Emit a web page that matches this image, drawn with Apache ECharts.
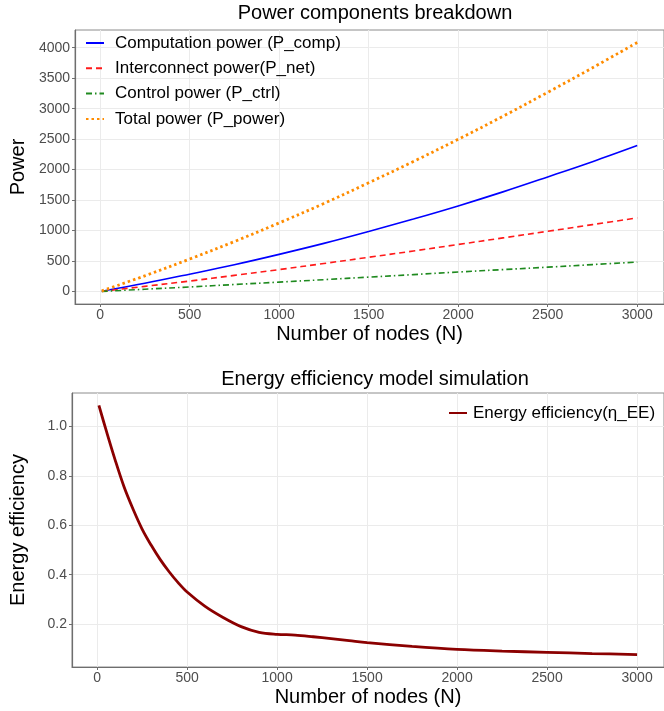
<!DOCTYPE html>
<html>
<head>
<meta charset="utf-8">
<title>Power and energy efficiency</title>
<script src="https://cdn.jsdelivr.net/npm/echarts@6/dist/echarts.min.js"></script>
<style>
  html, body { margin: 0; padding: 0; background: #fff; }
  #chart { width: 664px; height: 711px; }
</style>
</head>
<body>
<div id="chart"></div>
<script>
// x positions (number of nodes) for the power panel
const powerNodes = [10, 250, 500, 750, 1000, 1250, 1500, 1750, 2000, 2250, 2500, 2750, 3000];
const pComp  = [5, 135, 285, 440, 610, 790, 985, 1190, 1405, 1635, 1880, 2130, 2395];
const pNet   = [3, 85, 172, 265, 360, 460, 562, 665, 772, 880, 988, 1098, 1208];
const pCtrl  = [2, 38, 75, 115, 155, 195, 237, 278, 320, 360, 400, 442, 483];
const pTotal = [10, 258, 532, 820, 1125, 1445, 1784, 2133, 2497, 2875, 3268, 3670, 4086];

// energy efficiency curve
const effNodes = [10, 50, 100, 150, 200, 250, 300, 350, 400, 450, 500, 600, 700, 800, 900, 1000,
  1100, 1200, 1300, 1400, 1500, 1750, 2000, 2250, 2500, 2750, 3000];
const effValues = [1.085, 0.985, 0.865, 0.755, 0.665, 0.585, 0.52, 0.462, 0.412, 0.368, 0.330, 0.272, 0.227, 0.19, 0.167, 0.159,
  0.156, 0.149, 0.141, 0.133, 0.125, 0.110, 0.098, 0.091, 0.086, 0.081, 0.077];

// tick labels
const xTicks = [0, 500, 1000, 1500, 2000, 2500, 3000];
const powerTicks = [0, 500, 1000, 1500, 2000, 2500, 3000, 3500, 4000];
const effTicks = [0.2, 0.4, 0.6, 0.8, 1.0];

const FONT = 'Liberation Sans, Arial, sans-serif';
const zip = (xs, ys) => xs.map((x, i) => [x, ys[i]]);

// ggplot style 5% expansion around the data range
const expand = (lo, hi) => {
  const pad = (hi - lo) * 0.05;
  return [lo - pad, hi + pad];
};
const xRange = expand(10, 3000);
const powerRange = expand(0, Math.max(...pTotal));
const effRange = expand(Math.min(...effValues), Math.max(...effValues));

const xAxisBase = (gridIndex) => ({
  type: 'value',
  gridIndex: gridIndex,
  min: xRange[0],
  max: xRange[1],
  name: 'Number of nodes (N)',
  nameLocation: 'middle',
  nameGap: 20,
  nameTextStyle: { fontFamily: FONT, fontSize: 20, color: '#000' },
  axisLine: { show: true, onZero: false, lineStyle: { color: '#6e6e6e', width: 1.2 } },
  axisTick: { show: true, length: 3, customValues: xTicks, lineStyle: { color: '#6e6e6e' } },
  axisLabel: { customValues: xTicks, margin: 4, fontFamily: FONT, fontSize: 14, color: '#4d4d4d', formatter: v => String(v) },
  splitLine: { show: true, lineStyle: { color: '#ebebeb', width: 1 } }
});

const yAxisBase = (gridIndex, range, ticks, name, fmt) => ({
  type: 'value',
  gridIndex: gridIndex,
  min: range[0],
  max: range[1],
  name: name,
  nameLocation: 'middle',
  nameGap: 44,
  nameTextStyle: { fontFamily: FONT, fontSize: 20, color: '#000' },
  axisLine: { show: true, onZero: false, lineStyle: { color: '#6e6e6e', width: 1.2 } },
  axisTick: { show: true, length: 3, customValues: ticks, lineStyle: { color: '#6e6e6e' } },
  axisLabel: { customValues: ticks, margin: 5, fontFamily: FONT, fontSize: 14, color: '#4d4d4d', formatter: fmt },
  splitLine: { show: true, lineStyle: { color: '#ebebeb', width: 1 } }
});

const lineSeries = (name, data, color, width, type, xi, yi) => ({
  name: name,
  type: 'line',
  xAxisIndex: xi,
  yAxisIndex: yi,
  data: data,
  symbol: 'none',
  smooth: 0.35,
  lineStyle: { color: color, width: width, type: type, cap: 'butt' },
  itemStyle: { color: color },
  emphasis: { disabled: true }
});

const chart = echarts.init(document.getElementById('chart'));

const option = {
  backgroundColor: '#fff',
  animation: false,
  title: [
    { text: 'Power components breakdown', left: 370, top: -2, textAlign: 'center',
      textStyle: { fontFamily: FONT, fontSize: 20, fontWeight: 'normal', color: '#000' } },
    { text: 'Energy efficiency model simulation', left: 370, top: 364, textAlign: 'center',
      textStyle: { fontFamily: FONT, fontSize: 20, fontWeight: 'normal', color: '#000' } }
  ],
  legend: [
    {
      orient: 'vertical',
      left: 85, top: 33, padding: 0,
      itemWidth: 18, itemHeight: 10, itemGap: 5.3,
      itemStyle: { opacity: 0 },
      textStyle: { fontFamily: FONT, fontSize: 17, color: '#000', lineHeight: 20, padding: [0, 0, 0, 6] },
      data: ['Computation power (P_comp)', 'Interconnect power(P_net)', 'Control power (P_ctrl)', 'Total power (P_power)']
    },
    {
      orient: 'vertical',
      left: 448, top: 403, padding: 0,
      itemWidth: 18, itemHeight: 10,
      itemStyle: { opacity: 0 },
      textStyle: { fontFamily: FONT, fontSize: 17, color: '#000', lineHeight: 20, padding: [0, 0, 0, 1] },
      data: ['Energy efficiency(η_EE)']
    }
  ],
  grid: [
    { left: 72, right: -4, top: 30, height: 274, show: true, borderColor: '#8c8c8c', borderWidth: 1, backgroundColor: 'transparent' },
    { left: 72, right: -4, top: 393, height: 274, show: true, borderColor: '#8c8c8c', borderWidth: 1, backgroundColor: 'transparent' }
  ],
  xAxis: [xAxisBase(0), xAxisBase(1)],
  yAxis: [
    yAxisBase(0, powerRange, powerTicks, 'Power', v => String(v)),
    yAxisBase(1, effRange, effTicks, 'Energy efficiency', v => v.toFixed(1))
  ],
  series: [
    lineSeries('Computation power (P_comp)', zip(powerNodes, pComp), '#0000ff', 1.6, 'solid', 0, 0),
    lineSeries('Interconnect power(P_net)', zip(powerNodes, pNet), '#ff1a1a', 1.6, [6, 4], 0, 0),
    lineSeries('Control power (P_ctrl)', zip(powerNodes, pCtrl), '#1f8a1f', 1.6, [6, 3, 1.5, 3], 0, 0),
    lineSeries('Total power (P_power)', zip(powerNodes, pTotal), '#ff8c00', 2.8, [2.5, 3], 0, 0),
    lineSeries('Energy efficiency(η_EE)', zip(effNodes, effValues), '#8b0000', 2.8, 'solid', 1, 1)
  ]
};

chart.setOption(option);
</script>
</body>
</html>
